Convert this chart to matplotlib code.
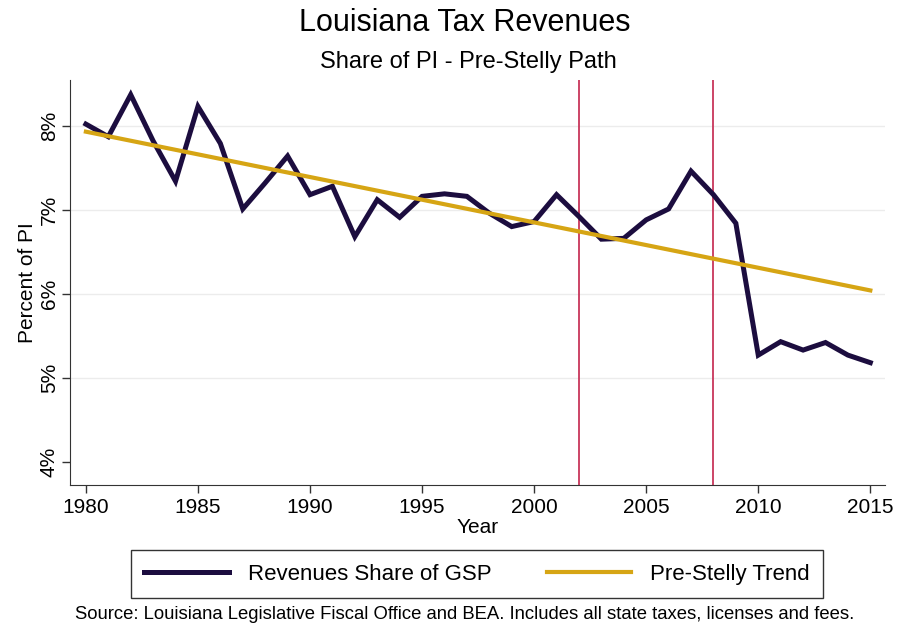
import matplotlib
matplotlib.use("Agg")
import matplotlib.pyplot as plt
from matplotlib.ticker import FuncFormatter

plt.rcParams['font.family'] = ['Liberation Sans', 'DejaVu Sans']

# data
years = list(range(1980, 2016))
revenue_share = [8.02, 7.87, 8.37, 7.82, 7.34, 8.23, 7.79, 7.01, 7.32, 7.64,
                 7.18, 7.28, 6.68, 7.12, 6.91, 7.16, 7.19, 7.16, 6.96, 6.80,
                 6.86, 7.18, 6.92, 6.65, 6.66, 6.88, 7.01, 7.46, 7.18, 6.84,
                 5.27, 5.43, 5.33, 5.42, 5.27, 5.18]
trend_years = [1980, 2015]
trend_values = [7.93, 6.04]
policy_years = [2002, 2008]
y_ticks = [4, 5, 6, 7, 8]
x_ticks = [1980, 1985, 1990, 1995, 2000, 2005, 2010, 2015]

navy = "#1c0d3f"
gold = "#d6a514"
red = "#c8365a"

fig = plt.figure(figsize=(8.97, 6.28), dpi=100)
ax = fig.add_axes([0.078, 0.228, 0.909, 0.645])

for yt in y_ticks[1:]:
    ax.axhline(yt, color="#ececec", linewidth=1.0, zorder=0)
for py in policy_years:
    ax.axvline(py, color=red, linewidth=1.3, zorder=1)

ax.plot(years, revenue_share, color=navy, linewidth=3.6, label="Revenues Share of GSP",
        solid_joinstyle="miter", zorder=3)
ax.plot(trend_years, trend_values, color=gold, linewidth=3.0, label="Pre-Stelly Trend", zorder=4)

ax.set_xlim(1979.29, 2015.67)
ax.set_ylim(3.726, 8.548)
ax.set_xticks(x_ticks)
ax.set_yticks(y_ticks)
ax.yaxis.set_major_formatter(FuncFormatter(lambda v, p: f"{v:.0f}%"))
ax.tick_params(axis="both", labelsize=15, length=6, width=1, color="#333333")
ax.tick_params(axis="y", pad=2)
for lab in ax.get_yticklabels():
    lab.set_rotation(90)
    lab.set_va("center")

for side in ["top", "right"]:
    ax.spines[side].set_visible(False)
for side in ["left", "bottom"]:
    ax.spines[side].set_color("#333333")

ax.set_xlabel("Year", fontsize=15, labelpad=1)
ax.set_ylabel("Percent of PI", fontsize=15, labelpad=2)

fig.text(0.518, 0.963, "Louisiana Tax Revenues", ha="center", va="center", fontsize=22)
fig.text(0.522, 0.901, "Share of PI - Pre-Stelly Path", ha="center", va="center", fontsize=17)

leg = fig.legend(loc="center", bbox_to_anchor=(0.532, 0.0855), ncol=2, fontsize=16,
                 frameon=True, fancybox=False, edgecolor="black", handlelength=3.8,
                 columnspacing=2.5, borderpad=0.6, handletextpad=0.85, borderaxespad=0)
leg.get_frame().set_linewidth(1.0)

fig.text(0.518, 0.021, "Source: Louisiana Legislative Fiscal Office and BEA. Includes all state taxes, licenses and fees.",
         ha="center", va="center", fontsize=13.3)

fig.savefig("out.png", dpi=100)
